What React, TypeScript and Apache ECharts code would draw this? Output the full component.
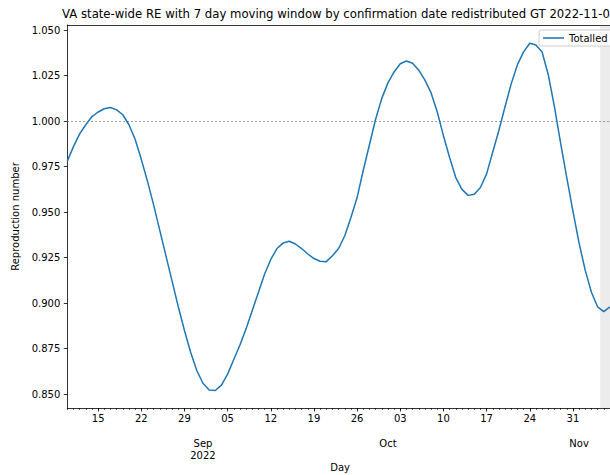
import React, { useEffect, useRef } from "react";
import * as echarts from "echarts";

// ---- data ----
const startDate = "2022-08-10";
// daily RE values from 2022-08-10 onwards
const reValues = [
  0.978, 0.986, 0.993, 0.998, 1.0025, 1.005, 1.0068, 1.0075, 1.0062, 1.0035,
  0.998, 0.99, 0.979, 0.967, 0.954, 0.94, 0.926, 0.912, 0.898, 0.885,
  0.873, 0.863, 0.856, 0.8523, 0.852, 0.855, 0.861, 0.869, 0.877, 0.886,
  0.896, 0.906, 0.916, 0.924, 0.93, 0.933, 0.934, 0.9325, 0.93, 0.927,
  0.9245, 0.923, 0.9228, 0.926, 0.93, 0.937, 0.947, 0.958, 0.973, 0.987,
  1.001, 1.0125, 1.021, 1.027, 1.0315, 1.033, 1.0318, 1.028, 1.0225, 1.0155,
  1.005, 0.992, 0.98, 0.969, 0.9625, 0.9592, 0.9598, 0.9635, 0.971, 0.983,
  0.995, 1.008, 1.0206, 1.031, 1.038, 1.0428, 1.0418, 1.038, 1.0255, 1.008,
  0.988, 0.969, 0.9505, 0.933, 0.918, 0.906, 0.898, 0.8953, 0.898,
];
const axisEnd = "2022-11-06T12:00:00";
const shadeStart = "2022-11-04T10:00:00";
const weekTickDates = [
  "2022-08-15", "2022-08-22", "2022-08-29", "2022-09-05", "2022-09-12", "2022-09-19",
  "2022-09-26", "2022-10-03", "2022-10-10", "2022-10-17", "2022-10-24", "2022-10-31",
];
const weekTickLabels = ["15", "22", "29", "05", "12", "19", "26", "03", "10", "17", "24", "31"];
const monthTickDates = ["2022-09-01", "2022-10-01", "2022-11-01"];
const monthTickLabels = ["Sep\n2022", "Oct", "Nov"];
const yTicks = [0.85, 0.875, 0.9, 0.925, 0.95, 0.975, 1.0, 1.025, 1.05];
const yMin = 0.8424;
const yMax = 1.0528;
const refLevel = 1.0;
const seriesName = "Totalled";
const titleText =
  "VA state-wide RE with 7 day moving window by confirmation date redistributed GT 2022-11-0";

// ---- helpers ----
const DAY = 86400000;
const t0 = Date.parse(startDate + "T00:00:00Z");
const dayIdx = (s: string) =>
  (Date.parse((s.length === 10 ? s + "T00:00:00" : s) + "Z") - t0) / DAY;

const FONT = "DejaVu Sans";

export default function App() {
  const ref = useRef<HTMLDivElement>(null);
  useEffect(() => {
    if (!ref.current) return;
    const chart = echarts.init(ref.current, undefined, { renderer: "svg" });
    const xMax = dayIdx(axisEnd);
    const weekPos = weekTickDates.map(dayIdx);
    const monthPos = monthTickDates.map(dayIdx);
    const dailyPos: number[] = [];
    for (let i = 0; i <= Math.floor(xMax); i++) dailyPos.push(i);
    const data = reValues.map((v, i) => [i, v]);
    const near = (arr: number[], v: number) => arr.findIndex((p) => Math.abs(p - v) < 1e-6);
    const black = "#000000";
    const option: any = {
      animation: false,
      textStyle: { fontFamily: FONT },
      title: {
        text: titleText,
        left: 62,
        top: 8,
        padding: 0,
        textStyle: { fontFamily: FONT, fontSize: 11.7, fontWeight: "normal", color: black },
      },
      legend: {
        left: 539,
        top: 30,
        padding: [3, 4, 3, 4],
        itemWidth: 21,
        itemHeight: 12,
        icon: "path://M0,0 L20,0 L20,1.5 L0,1.5 Z",
        backgroundColor: "rgba(255,255,255,0.8)",
        borderColor: "#cccccc",
        borderWidth: 1,
        borderRadius: 2,
        textStyle: { fontFamily: FONT, fontSize: 10, color: black },
        data: [seriesName],
      },
      grid: {
        left: 67.3,
        top: 25,
        right: -3,
        bottom: 67,
        containLabel: false,
        outerBoundsMode: "none",
      },
      xAxis: [
        {
          type: "value",
          min: 0,
          max: xMax,
          position: "bottom",
          name: "Day",
          nameLocation: "middle",
          nameGap: 54,
          nameTextStyle: { fontFamily: FONT, fontSize: 10, color: black },
          axisLine: { show: true, lineStyle: { color: black, width: 0.8 } },
          axisTick: {
            show: true,
            customValues: weekPos,
            length: 3.5,
            lineStyle: { color: black, width: 0.8 },
          },
          axisLabel: {
            show: true,
            customValues: weekPos,
            margin: 5,
            fontFamily: FONT,
            fontSize: 10,
            color: black,
            formatter: (v: number) => {
              const k = near(weekPos, v);
              return k >= 0 ? weekTickLabels[k] : "";
            },
          },
          splitLine: { show: false },
        },
        {
          type: "value",
          min: 0,
          max: xMax,
          position: "bottom",
          axisLine: { show: false },
          axisTick: {
            show: true,
            customValues: dailyPos,
            length: 2,
            lineStyle: { color: black, width: 0.6 },
          },
          axisLabel: { show: false },
          splitLine: { show: false },
        },
        {
          type: "value",
          min: 0,
          max: xMax,
          position: "bottom",
          axisLine: { show: false },
          axisTick: { show: false },
          axisLabel: {
            show: true,
            customValues: monthPos,
            margin: 29,
            fontFamily: FONT,
            fontSize: 10,
            lineHeight: 12,
            color: black,
            formatter: (v: number) => {
              const k = near(monthPos, v);
              return k >= 0 ? monthTickLabels[k] : "";
            },
          },
          splitLine: { show: false },
        },
        {
          type: "value",
          min: 0,
          max: xMax,
          position: "top",
          axisLine: { show: true, lineStyle: { color: black, width: 0.8 } },
          axisTick: { show: false },
          axisLabel: { show: false },
          splitLine: { show: false },
        },
      ],
      yAxis: {
        type: "value",
        min: yMin,
        max: yMax,
        name: "Reproduction number",
        nameLocation: "middle",
        nameGap: 39,
        nameTextStyle: { fontFamily: FONT, fontSize: 10, color: black },
        axisLine: { show: true, lineStyle: { color: black, width: 0.8 } },
        axisTick: {
          show: true,
          customValues: yTicks,
          length: 3.5,
          lineStyle: { color: black, width: 0.8 },
        },
        axisLabel: {
          show: true,
          customValues: yTicks,
          margin: 7,
          fontFamily: FONT,
          fontSize: 10,
          color: black,
          formatter: (v: number) => v.toFixed(3),
        },
        splitLine: { show: false },
      },
      series: [
        {
          name: seriesName,
          type: "line",
          xAxisIndex: 0,
          data,
          symbol: "none",
          showSymbol: false,
          lineStyle: { color: "#1f77b4", width: 1.5 },
          itemStyle: { color: "#1f77b4" },
          clip: true,
          z: 5,
          markArea: {
            silent: true,
            itemStyle: { color: "rgba(128,128,128,0.15)" },
            data: [[{ xAxis: dayIdx(shadeStart) }, { xAxis: xMax }]],
          },
          markLine: {
            silent: true,
            symbol: "none",
            label: { show: false },
            lineStyle: { color: "#808080", width: 1.2, type: [1.5, 2.5] },
            data: [{ yAxis: refLevel }],
          },
        },
      ],
    };
    chart.setOption(option);
    return () => chart.dispose();
  }, []);
  return (
    <div
      ref={ref}
      style={{ position: "fixed", left: 0, top: 0, width: 610, height: 475, background: "#fff" }}
    />
  );
}
